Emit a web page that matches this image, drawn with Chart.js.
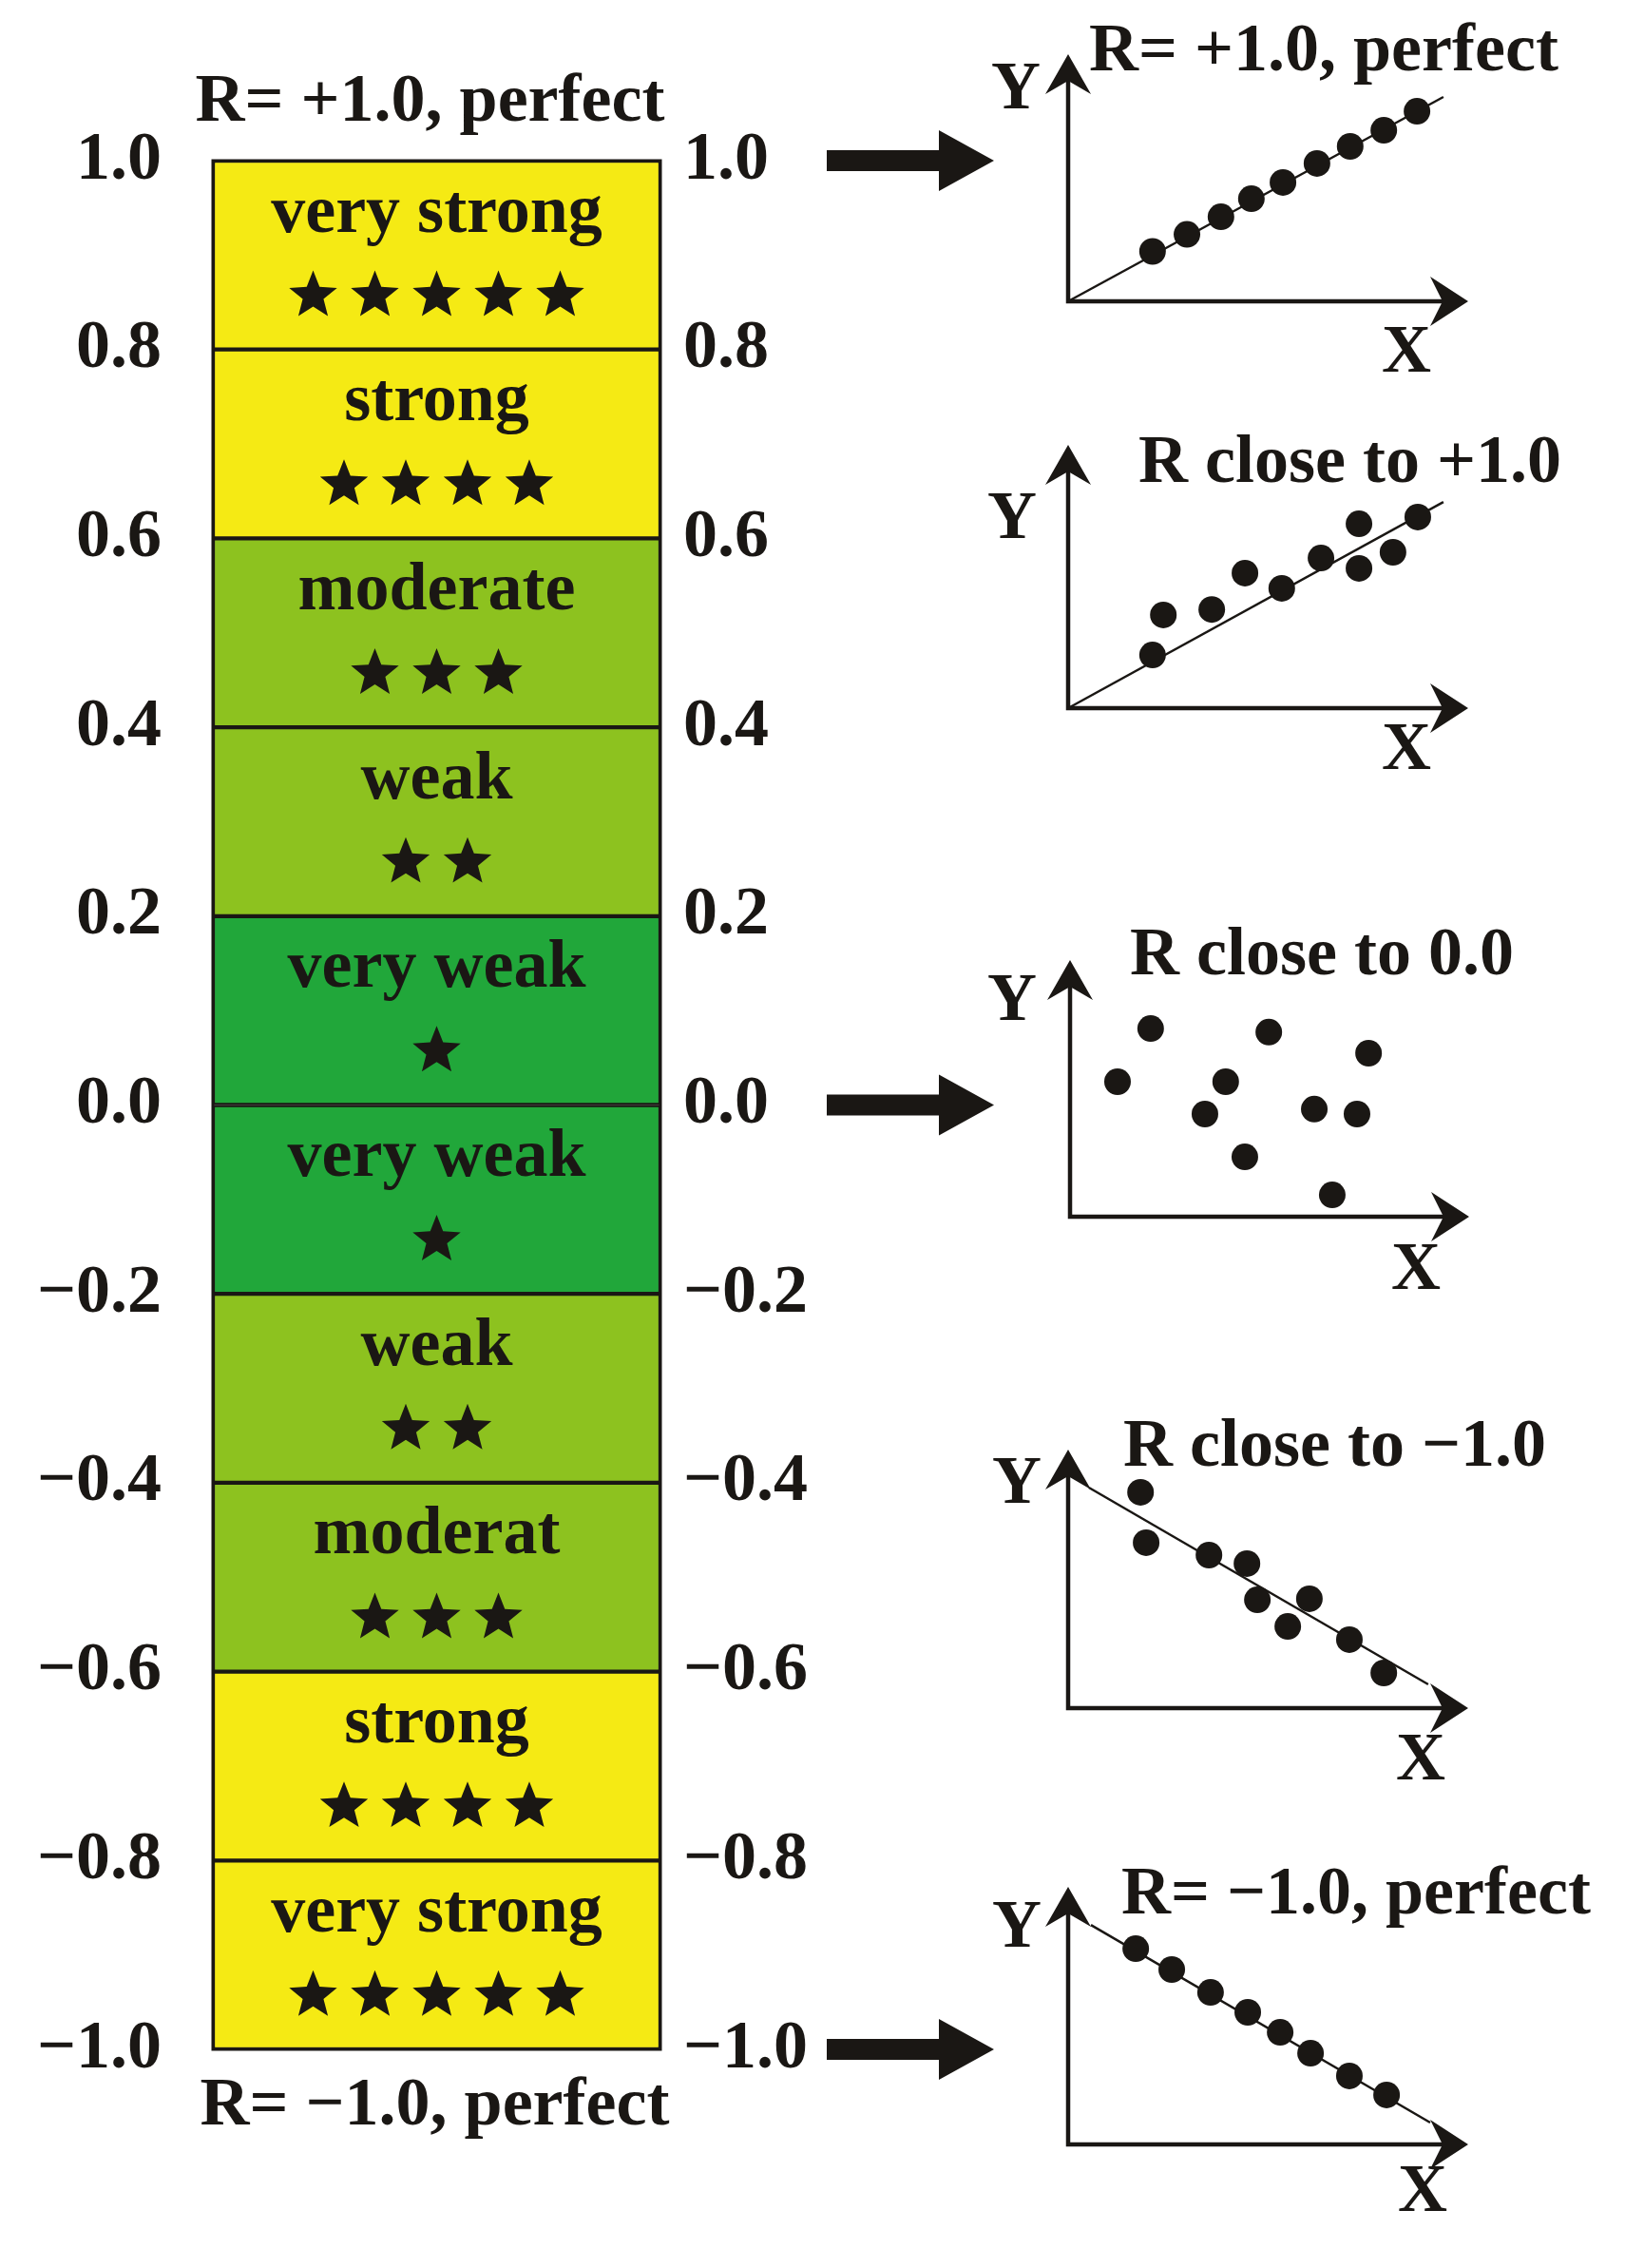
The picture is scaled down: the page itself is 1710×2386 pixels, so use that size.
<!DOCTYPE html>
<html>
<head>
<meta charset="utf-8">
<title>Correlation strength scale</title>
<script src="https://cdn.jsdelivr.net/npm/chart.js@4.4.1/dist/chart.umd.min.js"></script>
<style>
  html, body { margin: 0; padding: 0; background: #fff; }
  #page { position: relative; width: 1710px; height: 2386px; background: #fff; overflow: hidden; }
  canvas { position: absolute; }
</style>
</head>
<body>
<div id="page">
  <canvas id="scaleChart" width="1100" height="2386" style="left:0;top:0"></canvas>
</div>
<script>
// ---- data: strength scale ----
const tickValues = [-1.0, -0.8, -0.6, -0.4, -0.2, 0.0, 0.2, 0.4, 0.6, 0.8, 1.0];
const bandNames = ['very strong', 'strong', 'moderate', 'weak', 'very weak', 'very weak', 'weak', 'moderat', 'strong', 'very strong'];
const bandStars = [5, 4, 3, 2, 1, 1, 2, 3, 4, 5];
const bandLow = [0.8, 0.6, 0.4, 0.2, 0.0, -0.2, -0.4, -0.6, -0.8, -1.0];
const bandHigh = [1.0, 0.8, 0.6, 0.4, 0.2, 0.0, -0.2, -0.4, -0.6, -0.8];
const topCaption = 'R= +1.0, perfect';
const bottomCaption = 'R= \u22121.0, perfect';
const arrowValues = [1.0, 0.0, -1.0];

// ---- data: example scatter plots (axis units 0..100) ----
const plotTitles = ['R= +1.0, perfect', 'R close to +1.0', 'R close to 0.0', 'R close to \u22121.0', 'R= \u22121.0, perfect'];
const perfectPosX = [21.1, 29.7, 38.2, 45.8, 53.7, 62.2, 70.5, 78.9, 87.2];
const perfectPosY = [20.2, 27.1, 34.2, 41.5, 48.1, 55.8, 62.7, 69.2, 76.9];
const perfectPosFitX = [0, 93.8];
const perfectPosFitY = [0, 82.7];
const closePosX = [21.1, 23.8, 35.9, 44.2, 53.4, 63.2, 72.7, 72.7, 81.2, 87.4];
const closePosY = [20.2, 35.4, 37.5, 51.3, 45.5, 57.0, 70.0, 53.1, 59.2, 72.6];
const closePosFitX = [0, 93.8];
const closePosFitY = [0, 78.3];
const zeroX = [11.9, 20.2, 33.8, 39.0, 43.8, 49.8, 61.2, 65.7, 71.9, 74.8];
const zeroY = [52.6, 73.3, 40.0, 52.6, 23.3, 71.9, 41.9, 8.5, 40.0, 63.7];
const closeNegX = [18.1, 19.5, 35.2, 44.7, 47.3, 60.3, 54.9, 70.3, 78.9];
const closeNegY = [83.5, 64.0, 59.2, 55.9, 41.9, 42.3, 31.6, 26.5, 13.6];
const closeNegFitX = [5.2, 90.0];
const closeNegFitY = [85.3, 9.2];
const perfectNegX = [16.9, 25.9, 35.6, 44.9, 53.0, 60.6, 70.3, 79.6];
const perfectNegY = [76.0, 67.9, 59.0, 51.3, 43.5, 35.4, 26.6, 19.2];
const perfectNegFitX = [5.7, 90.5];
const perfectNegFitY = [85.2, 8.5];

// ---- styles ----
const INK = '#1a1714';
const FONT = 'bold 72px "Liberation Serif", "Times New Roman", serif';
const bandColors = ['#f5ea14', '#f5ea14', '#8dc21f', '#8dc21f', '#21a73a', '#21a73a', '#8dc21f', '#8dc21f', '#f5ea14', '#f5ea14'];

function formatTick(v) {
    if (Math.abs(v) < 1e-9) return '0.0';
    return v < 0 ? '\u2212' + Math.abs(v).toFixed(1) : v.toFixed(1);
}

function drawStar(ctx, x, y, outer, inner) {
    ctx.beginPath();
    for (let i = 0; i < 10; i++) {
        const r = i % 2 ? inner : outer;
        const a = -Math.PI / 2 + i * Math.PI / 5;
        ctx.lineTo(x + r * Math.cos(a), y + r * Math.sin(a));
    }
    ctx.closePath();
    ctx.fill();
}

const scaleDecor = {
    id: 'scaleDecor',
    afterDatasetsDraw(chart) {
        const ctx = chart.ctx;
        const area = chart.chartArea;
        const cx = (area.left + area.right) / 2;
        ctx.save();
        ctx.fillStyle = INK;
        ctx.font = FONT;
        ctx.textAlign = 'center';
        ctx.textBaseline = 'alphabetic';
        chart.data.datasets.forEach((ds, i) => {
            const bar = chart.getDatasetMeta(i).data[0];
            const top = Math.min(bar.y, bar.base);
            const h = Math.abs(bar.base - bar.y);
            ctx.fillText(bandNames[i], cx, top + h * 0.375);
            const n = bandStars[i];
            for (let k = 0; k < n; k++) {
                drawStar(ctx, cx + (k - (n - 1) / 2) * 65, top + h * 0.715, 26.5, 11.5);
            }
        });
        // outer frame
        ctx.strokeStyle = INK;
        ctx.lineWidth = 3;
        ctx.strokeRect(area.left, area.top, area.right - area.left, area.bottom - area.top);

        ctx.fillText(topCaption, cx - 7, area.top - 42);
        ctx.fillText(bottomCaption, cx - 2, area.bottom + 79);

        // big arrows to the example plots
        const yScale = chart.scales.y;
        arrowValues.forEach(v => {
            const y = yScale.getPixelForValue(v);
            ctx.fillRect(area.right + 175, y - 11, 120, 22);
            ctx.beginPath();
            ctx.moveTo(area.right + 293, y - 32);
            ctx.lineTo(area.right + 351, y);
            ctx.lineTo(area.right + 293, y + 32);
            ctx.closePath();
            ctx.fill();
        });
        ctx.restore();
    }
};

function axisOptions(position, width, pad) {
    return {
        type: 'linear',
        position: position,
        min: -1,
        max: 1,
        grid: { display: false, drawTicks: false },
        border: { display: false },
        ticks: {
            color: INK,
            padding: pad,
            autoSkip: false,
            font: { family: '"Liberation Serif", "Times New Roman", serif', weight: 'bold', size: 72 },
            callback: v => formatTick(v)
        },
        afterBuildTicks: s => { s.ticks = tickValues.map(v => ({ value: v })); },
        afterFit: s => { s.width = width; }
    };
}

new Chart(document.getElementById('scaleChart'), {
    type: 'bar',
    data: {
        labels: ['R'],
        datasets: bandNames.map((name, i) => ({
            label: name,
            data: [[bandLow[i], bandHigh[i]]],
            backgroundColor: bandColors[i],
            borderColor: INK,
            borderWidth: 2.5,
            borderSkipped: false,
            grouped: false,
            barPercentage: 1,
            categoryPercentage: 1,
            yAxisID: 'y'
        }))
    },
    options: {
        responsive: false,
        animation: false,
        layout: { padding: { left: 0, right: 205, top: 169, bottom: 230 } },
        plugins: { legend: { display: false }, tooltip: { enabled: false } },
        scales: {
            x: { display: false },
            y: axisOptions('left', 224, 54),
            y2: axisOptions('right', 200, 24)
        }
    },
    plugins: [scaleDecor]
});

// ---- small example plots on the right ----
const plotSeries = [
    { xs: perfectPosX, ys: perfectPosY, fitX: perfectPosFitX, fitY: perfectPosFitY },
    { xs: closePosX, ys: closePosY, fitX: closePosFitX, fitY: closePosFitY },
    { xs: zeroX, ys: zeroY, fitX: null, fitY: null },
    { xs: closeNegX, ys: closeNegY, fitX: closeNegFitX, fitY: closeNegFitY },
    { xs: perfectNegX, ys: perfectNegY, fitX: perfectNegFitX, fitY: perfectNegFitY }
];

// page positions of each plot (origin, arrow tips, labels)
const plotBoxes = [
    { top: 0,    h: 430, ox: 1124, oy: 317,  xTip: 1545, yTip: 57,   yLab: [1069, 95],   xLab: [1480, 372],  title: [1146, 74] },
    { top: 420,  h: 430, ox: 1124, oy: 745,  xTip: 1545, yTip: 468,  yLab: [1065, 547],  xLab: [1480, 790],  title: [1198, 507] },
    { top: 950,  h: 440, ox: 1126, oy: 1280, xTip: 1546, yTip: 1010, yLab: [1065, 1054], xLab: [1490, 1337], title: [1189, 1025] },
    { top: 1450, h: 450, ox: 1124, oy: 1797, xTip: 1545, yTip: 1525, yLab: [1070, 1562], xLab: [1495, 1853], title: [1182, 1542] },
    { top: 1930, h: 456, ox: 1124, oy: 2256, xTip: 1545, yTip: 1985, yLab: [1070, 2029], xLab: [1497, 2307], title: [1180, 2013] }
];
const PLOT_LEFT = 1000;

const plotDecor = {
    id: 'plotDecor',
    beforeDatasetsDraw(chart, args, opts) {
        const box = plotBoxes[opts.index];
        const ctx = chart.ctx;
        const a = chart.chartArea;
        const ox = a.left, oy = a.bottom, xt = a.right, yt = a.top;
        ctx.save();
        ctx.strokeStyle = INK;
        ctx.fillStyle = INK;
        ctx.lineWidth = 4.5;
        ctx.lineJoin = 'miter';
        ctx.beginPath();
        ctx.moveTo(ox, yt + 20);
        ctx.lineTo(ox, oy);
        ctx.lineTo(xt - 20, oy);
        ctx.stroke();
        // arrowheads
        ctx.beginPath();
        ctx.moveTo(ox, yt);
        ctx.lineTo(ox + 24, yt + 42);
        ctx.lineTo(ox, yt + 28);
        ctx.lineTo(ox - 24, yt + 42);
        ctx.closePath();
        ctx.fill();
        ctx.beginPath();
        ctx.moveTo(xt, oy);
        ctx.lineTo(xt - 40, oy - 26);
        ctx.lineTo(xt - 27, oy);
        ctx.lineTo(xt - 40, oy + 26);
        ctx.closePath();
        ctx.fill();

        ctx.font = FONT;
        ctx.textAlign = 'center';
        ctx.textBaseline = 'middle';
        ctx.fillText('Y', box.yLab[0] - PLOT_LEFT, box.yLab[1] - box.top);
        ctx.fillText('X', box.xLab[0] - PLOT_LEFT, box.xLab[1] - box.top);
        ctx.textAlign = 'left';
        ctx.textBaseline = 'alphabetic';
        ctx.fillText(plotTitles[opts.index], box.title[0] - PLOT_LEFT, box.title[1] - box.top);
        ctx.restore();
    }
};

const page = document.getElementById('page');
plotBoxes.forEach((box, i) => {
    const c = document.createElement('canvas');
    c.width = 710;
    c.height = box.h;
    c.style.left = PLOT_LEFT + 'px';
    c.style.top = box.top + 'px';
    page.appendChild(c);

    const s = plotSeries[i];
    const datasets = [{
        type: 'scatter',
        data: s.xs.map((x, k) => ({ x: x, y: s.ys[k] })),
        pointRadius: 14,
        pointBackgroundColor: INK,
        pointBorderWidth: 0,
        clip: false
    }];
    if (s.fitX) {
        datasets.push({
            type: 'line',
            data: s.fitX.map((x, k) => ({ x: x, y: s.fitY[k] })),
            showLine: true,
            borderColor: INK,
            borderWidth: 2.5,
            pointRadius: 0,
            clip: false
        });
    }

    new Chart(c, {
        type: 'scatter',
        data: { datasets: datasets },
        options: {
            responsive: false,
            animation: false,
            layout: {
                padding: {
                    left: box.ox - PLOT_LEFT,
                    right: PLOT_LEFT + 710 - box.xTip,
                    top: box.yTip - box.top,
                    bottom: box.top + box.h - box.oy
                }
            },
            plugins: { legend: { display: false }, tooltip: { enabled: false }, plotDecor: { index: i } },
            scales: {
                x: { type: 'linear', min: 0, max: 100, display: false },
                y: { type: 'linear', min: 0, max: 100, display: false }
            }
        },
        plugins: [plotDecor]
    });
});
</script>
</body>
</html>
